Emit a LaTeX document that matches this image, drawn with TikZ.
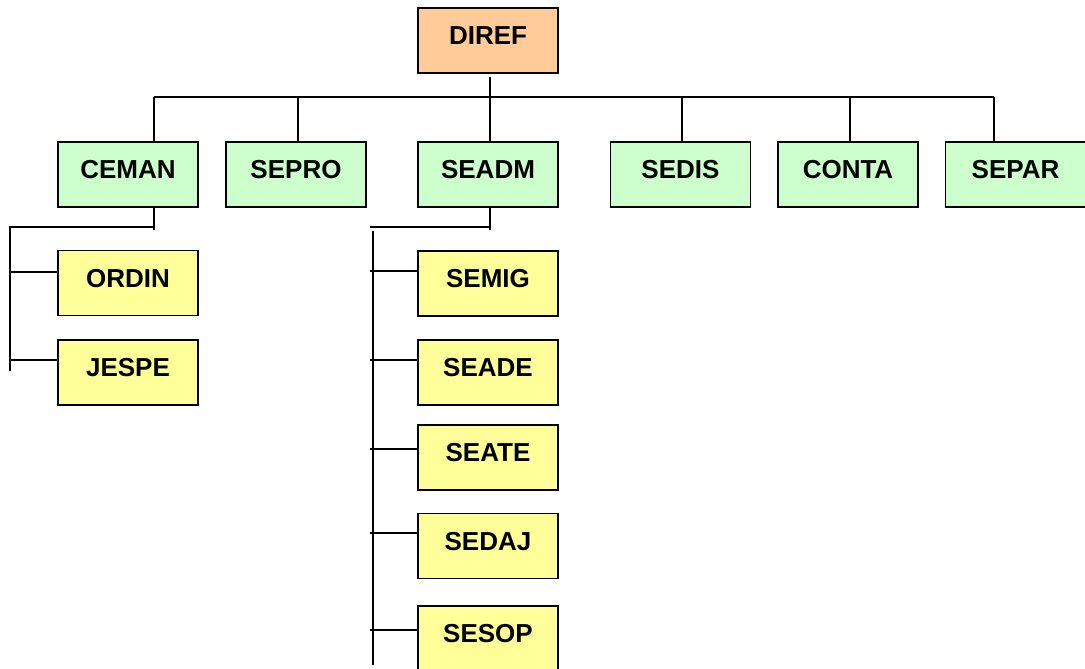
\documentclass[tikz,border=0pt]{standalone}
\usepackage{fontspec}
\setmainfont{Liberation Sans}
\usetikzlibrary{calc}
\definecolor{orangebox}{HTML}{FFCC99}
\definecolor{greenbox}{HTML}{CCFFCC}
\definecolor{yellowbox}{HTML}{FFFF99}
\tikzset{
  box/.style={draw=black, line width=1.8pt, minimum width=140pt, minimum height=65pt, inner sep=0pt,
    outer sep=0pt, text height=19pt, text depth=11pt,
    font=\fontsize{26}{30}\selectfont\bfseries},
  topbox/.style={box, fill=orangebox},
  midbox/.style={box, fill=greenbox},
  lowbox/.style={box, fill=yellowbox},
  link/.style={draw=black, line width=1.7pt}
}
\begin{document}
\begin{tikzpicture}[x=1pt,y=-1pt]
\useasboundingbox (0,0) rectangle (1085,669);
% nodes
\node[topbox] (DIREF) at (488,40.5) {DIREF};
\node[midbox] (CEMAN) at (128,174.5) {CEMAN};
\node[midbox] (SEPRO) at (296,174.5) {SEPRO};
\node[midbox] (SEADM) at (488,174.5) {SEADM};
\node[midbox] (SEDIS) at (680.5,174.5) {SEDIS};
\node[midbox] (CONTA) at (848,174.5) {CONTA};
\node[midbox] (SEPAR) at (1015.5,174.5) {SEPAR};
\node[lowbox] (ORDIN) at (128,283) {ORDIN};
\node[lowbox] (JESPE) at (128,372.5) {JESPE};
\node[lowbox] (SEMIG) at (488,283.5) {SEMIG};
\node[lowbox] (SEADE) at (488,372.5) {SEADE};
\node[lowbox] (SEATE) at (488,457.5) {SEATE};
\node[lowbox] (SEDAJ) at (488,546) {SEDAJ};
\node[lowbox] (SESOP) at (488,638.5) {SESOP};
% coordinates
\coordinate (busL) at (154,97);
\coordinate (busR) at (994,97);
\coordinate (barA) at (10,227);
\coordinate (spineAbot) at (10,371);
\coordinate (barB) at (370,227);
\coordinate (spineBtop) at (373,231);
\coordinate (spineBbot) at (373,665);
% top level
\draw[link] ($(DIREF.south)+(2,4)$) -- ($(SEADM.north)+(2,0)$);
\draw[link] (busL) -- (busR);
\draw[link] ($(CEMAN.north)+(26,0)$) |- (busL);
\draw[link] ($(SEPRO.north)+(2,0)$) -- ($(SEPRO.north)+(2,-45)$);
\draw[link] ($(SEDIS.north)+(1.5,0)$) -- ($(SEDIS.north)+(1.5,-45)$);
\draw[link] ($(CONTA.north)+(2,0)$) -- ($(CONTA.north)+(2,-45)$);
\draw[link] ($(SEPAR.north)+(-21.5,0)$) |- (busR);
% CEMAN subtree
\draw[link] ($(CEMAN.south)+(26,0)$) -- ($(CEMAN.south)+(26,23)$);
\draw[link] ($(CEMAN.south)+(26,0)$) |- (barA) -- (spineAbot);
\draw[link] ($(ORDIN.west)+(0,-11)$) -- +(-48,0);
\draw[link] ($(JESPE.west)+(0,-12.5)$) -- +(-48,0);
% SEADM subtree
\draw[link] ($(SEADM.south)+(2,0)$) -- ($(SEADM.south)+(2,23)$);
\draw[link] ($(SEADM.south)+(2,0)$) |- (barB);
\draw[link] (spineBtop) -- (spineBbot);
\draw[link] ($(SEMIG.west)+(0,-12.5)$) -- +(-48,0);
\draw[link] ($(SEADE.west)+(0,-12.5)$) -- +(-48,0);
\draw[link] ($(SEATE.west)+(0,-8.5)$) -- +(-48,0);
\draw[link] ($(SEDAJ.west)+(0,-13)$) -- +(-48,0);
\draw[link] ($(SESOP.west)+(0,-8.5)$) -- +(-48,0);
\end{tikzpicture}
\end{document}
